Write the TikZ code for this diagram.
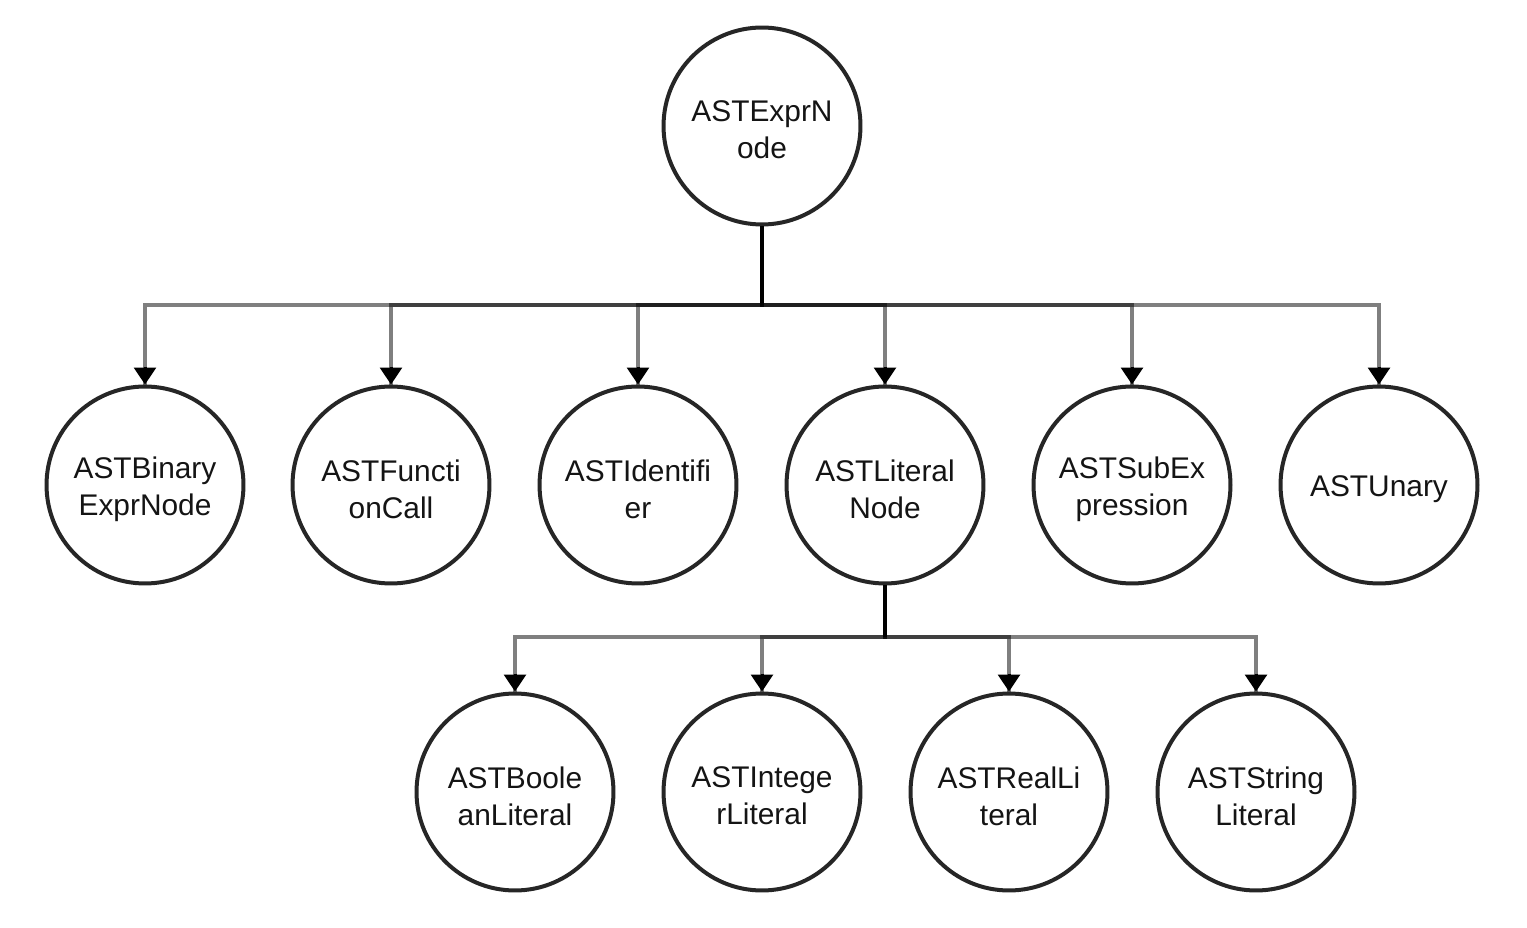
\documentclass[tikz,border=0pt]{standalone}
\usepackage{fontspec}
\setmainfont{Liberation Sans}
\usetikzlibrary{arrows.meta}
\begin{document}
\begin{tikzpicture}[x=0.02cm,y=-0.02cm,
  circ/.style={circle,draw=black!85,line width=0.08cm,minimum size=3.94cm,inner sep=0pt},
  txt/.style={align=center,inner sep=0pt,font=\fontsize{17}{21}\selectfont,text=black!92},
  conn/.style={draw=black,draw opacity=0.5,line width=0.07cm},
  stem/.style={line width=0.09cm,black},
  tipa/.style={-{Triangle[width=0.44cm,length=0.34cm]},line width=0.06cm,black}]
\useasboundingbox (0,0) rectangle (1527,928);
\node[circ] (root) at (762,126) {};
\node[circ] (bin) at (145,485) {};
\node[circ] (fun) at (391,485) {};
\node[circ] (ide) at (638,485) {};
\node[circ] (lit) at (885,485) {};
\node[circ] (sub) at (1132,485) {};
\node[circ] (una) at (1379,485) {};
\node[circ] (boo) at (515,792) {};
\node[circ] (int) at (762,792) {};
\node[circ] (rea) at (1009,792) {};
\node[circ] (str) at (1256,792) {};
\node[txt] (rootT) at ([yshift=-0.08cm]root.center) {ASTExprN\\ode};
\node[txt] (binT) at ([yshift=-0.08cm]bin.center) {ASTBinary\\ExprNode};
\node[txt] (funT) at ([yshift=-0.08cm]fun.center) {ASTFuncti\\onCall};
\node[txt] (ideT) at ([yshift=-0.08cm]ide.center) {ASTIdentifi\\er};
\node[txt] (litT) at ([yshift=-0.08cm]lit.center) {ASTLiteral\\Node};
\node[txt] (subT) at ([yshift=-0.08cm]sub.center) {ASTSubEx\\pression};
\node[txt] (unaT) at ([yshift=-0.08cm]una.center) {ASTUnary};
\node[txt] (booT) at ([yshift=-0.08cm]boo.center) {ASTBoole\\anLiteral};
\node[txt] (intT) at ([yshift=-0.08cm]int.center) {ASTIntege\\rLiteral};
\node[txt] (reaT) at ([yshift=-0.08cm]rea.center) {ASTRealLi\\teral};
\node[txt] (strT) at ([yshift=-0.08cm]str.center) {ASTString\\Literal};
\coordinate (bus1) at (762,305);
\coordinate (bus2) at (885,637);
\foreach \c in {bin,fun,ide,lit,sub,una}
  \draw[conn] (root.south) -- (root.south |- bus1) -| (\c.north);
\foreach \c in {boo,int,rea,str}
  \draw[conn] (lit.south) -- (lit.south |- bus2) -| (\c.north);
\draw[stem] (root.south) -- (root.south |- bus1);
\draw[stem] (lit.south) -- (lit.south |- bus2);
\foreach \c in {bin,fun,ide,lit,sub,una,boo,int,rea,str}
  \draw[tipa] ([yshift=0.36cm]\c.north) -- (\c.north);
\end{tikzpicture}
\end{document}
